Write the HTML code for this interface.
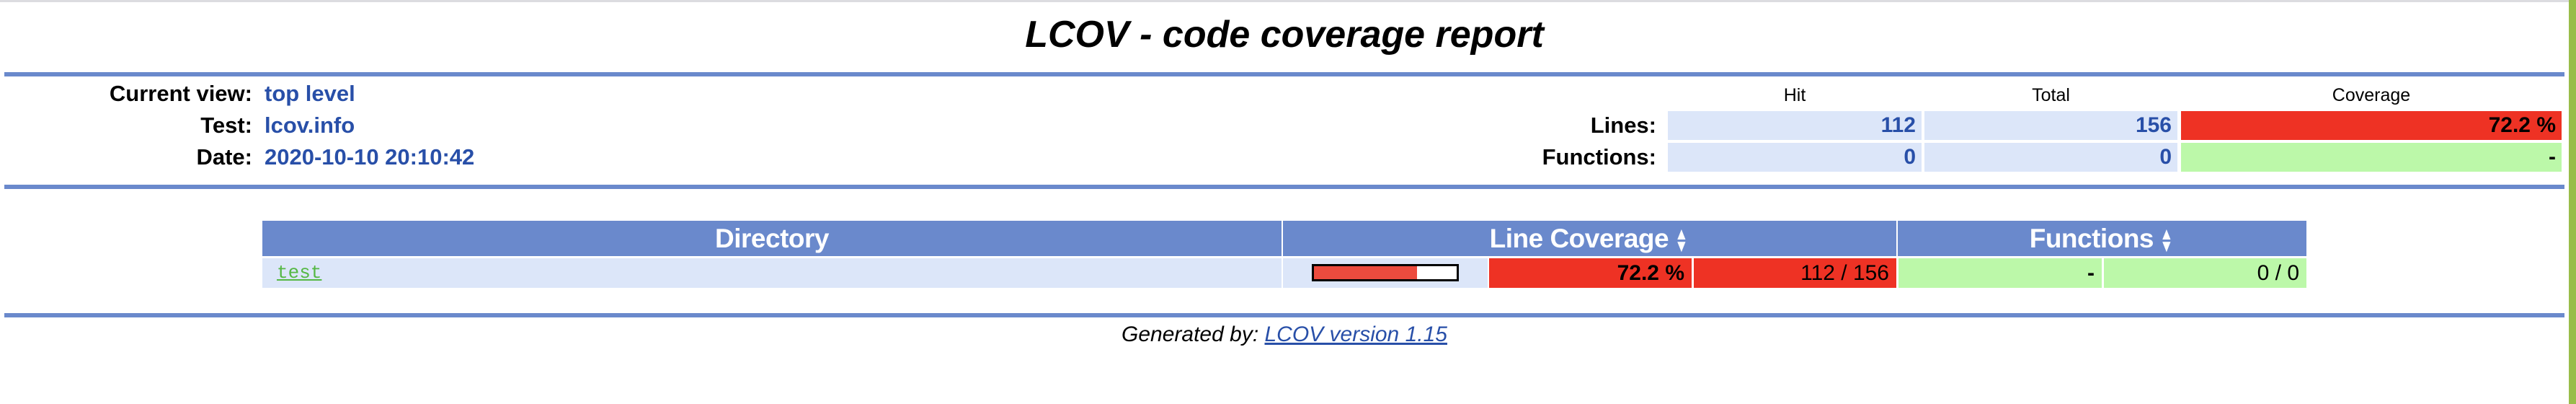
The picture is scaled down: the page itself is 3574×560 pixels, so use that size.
<!DOCTYPE html>
<html><head><meta charset="utf-8"><style>
html,body{margin:0;padding:0;}
body{width:3574px;height:560px;position:relative;overflow:hidden;background:#fff;font-family:"Liberation Sans",Arial,sans-serif;}
.a{position:absolute;box-sizing:border-box;}
.rule{left:6px;width:3552px;height:6px;background:#6a89cc;}
.lbl{font-weight:bold;font-size:31px;color:#000;text-align:right;line-height:40px;}
.val{font-weight:bold;font-size:31px;color:#284fa8;line-height:40px;white-space:nowrap;}
.cell{background:#dce6f9;font-weight:bold;font-size:30px;color:#284fa8;text-align:right;line-height:40px;padding-right:8px;}
.hd{font-size:25px;text-align:center;line-height:30px;color:#000;}
.th{background:#6a89cc;color:#fff;font-weight:bold;font-size:37px;text-align:center;line-height:49px;letter-spacing:-0.5px;}
.td{font-weight:bold;font-size:30px;text-align:right;line-height:41px;padding-right:10px;color:#000;}
.red{background:#ee3224;}
.grn{background:#bcf8a9;}
.sort{display:inline-block;vertical-align:middle;margin-left:6px;font-size:24px;line-height:17px;transform:scaleX(0.8);}
</style></head><body>
<div class="a" style="left:0;top:0;width:3564px;height:3px;background:#dcdce0"></div>
<div class="a" style="left:3564px;top:0;width:10px;height:560px;background:#99bd4a"></div>
<div class="a" style="left:0;width:3564px;top:18px;text-align:center;font-size:52px;font-weight:bold;font-style:italic;line-height:60px">LCOV - code coverage report</div>
<div class="a rule" style="top:100px"></div>

<div class="a lbl" style="left:0;width:350px;top:110px">Current view:</div>
<div class="a val" style="left:367px;top:110px">top level</div>
<div class="a lbl" style="left:0;width:350px;top:154px">Test:</div>
<div class="a val" style="left:367px;top:154px">lcov.info</div>
<div class="a lbl" style="left:0;width:350px;top:198px">Date:</div>
<div class="a val" style="left:367px;top:198px">2020-10-10 20:10:42</div>

<div class="a hd" style="left:2314px;width:352px;top:117px">Hit</div>
<div class="a hd" style="left:2670px;width:351px;top:117px">Total</div>
<div class="a hd" style="left:3026px;width:528px;top:117px">Coverage</div>
<div class="a lbl" style="left:2000px;width:298px;top:154px">Lines:</div>
<div class="a cell" style="left:2314px;width:352px;top:154px;height:40px">112</div>
<div class="a cell" style="left:2670px;width:351px;top:154px;height:40px">156</div>
<div class="a cell red" style="left:3026px;width:528px;top:154px;height:40px;color:#000">72.2 %</div>
<div class="a lbl" style="left:2000px;width:298px;top:198px">Functions:</div>
<div class="a cell" style="left:2314px;width:352px;top:198px;height:40px">0</div>
<div class="a cell" style="left:2670px;width:351px;top:198px;height:40px">0</div>
<div class="a cell grn" style="left:3026px;width:528px;top:198px;height:40px;color:#000">-</div>
<div class="a rule" style="top:256px"></div>

<div class="a th" style="left:364px;width:1414px;top:306px;height:49px">Directory</div>
<div class="a th" style="left:1780px;width:851px;top:306px;height:49px">Line Coverage<span class="sort">▲<br>▼</span></div>
<div class="a th" style="left:2633px;width:567px;top:306px;height:49px">Functions<span class="sort">▲<br>▼</span></div>

<div class="a" style="left:364px;width:1414px;top:358px;height:41px;background:#dce6f9"></div>
<a class="a" style="left:384px;top:358px;line-height:41px;font-family:'Liberation Mono',monospace;font-size:26px;color:#55b844;text-decoration:underline">test</a>
<div class="a" style="left:1780px;width:284px;top:358px;height:41px;background:#dce6f9"></div>
<div class="a" style="left:1820px;top:366px;width:204px;height:24px;border:3px solid #000;background:#fff">
  <div style="width:72.2%;height:100%;background:#ec4b3e"></div>
</div>
<div class="a td red" style="left:2066px;width:281px;top:358px;height:41px">72.2 %</div>
<div class="a td red" style="left:2350px;width:281px;top:358px;height:41px;font-weight:normal">112 / 156</div>
<div class="a td grn" style="left:2634px;width:282px;top:358px;height:41px">-</div>
<div class="a td grn" style="left:2919px;width:281px;top:358px;height:41px;font-weight:normal">0 / 0</div>

<div class="a rule" style="top:434px"></div>
<div class="a" style="left:0;width:3564px;top:446px;text-align:center;font-size:30px;font-style:italic;line-height:36px">Generated by: <a style="color:#284fa8;text-decoration:underline">LCOV version 1.15</a></div>
</body></html>
